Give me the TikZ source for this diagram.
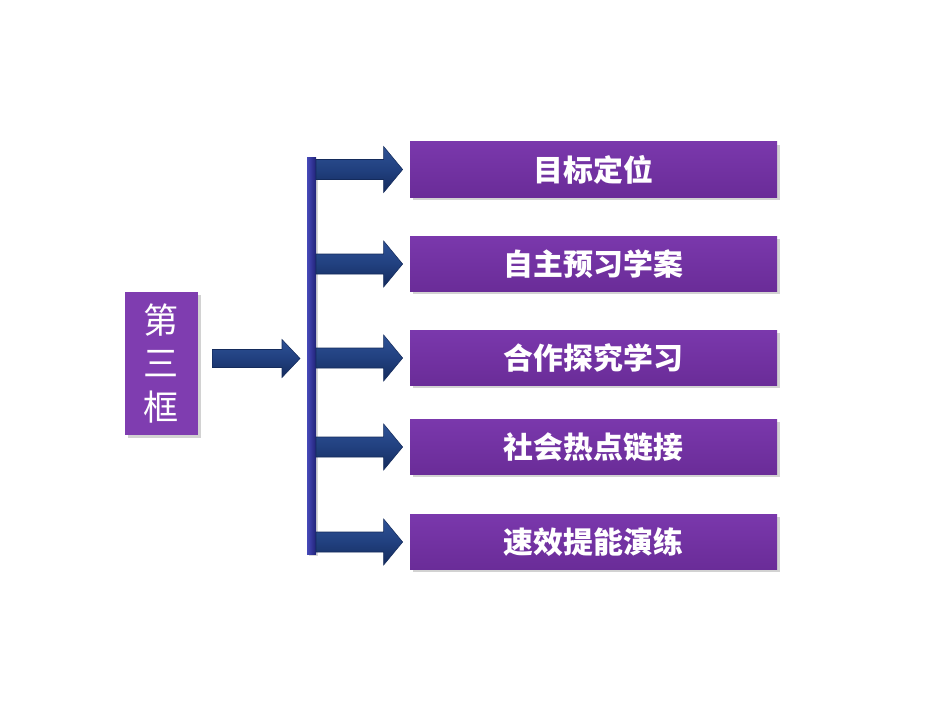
\documentclass[tikz,border=0pt]{standalone}
\usepackage{fontspec}
\newfontfamily\cjk{Noto Sans CJK SC}
\usetikzlibrary{calc,shadows}
\definecolor{boxpurple}{HTML}{7030A0}
\definecolor{boxtop}{HTML}{7A38AC}
\definecolor{boxbot}{HTML}{6A2C98}
\definecolor{leftpurple}{HTML}{7F3DB0}
\definecolor{arrtop}{HTML}{2E5296}
\definecolor{arrmid}{HTML}{21407F}
\definecolor{arrbot}{HTML}{142B5C}
\definecolor{barleft}{HTML}{4649B8}
\definecolor{barright}{HTML}{202278}
\tikzset{
  itembox/.style={draw=none, top color=boxtop, bottom color=boxbot,
    minimum width=367*0.02cm, minimum height=55*0.02cm, inner sep=0pt,
    text=white, font=\cjk\bfseries\fontsize{17}{20}\selectfont,
    drop shadow={shadow xshift=1.5pt, shadow yshift=-1.5pt, opacity=0.35}},
  titlebox/.style={draw=none, fill=leftpurple,
    minimum width=73*0.02cm, minimum height=143*0.02cm, inner sep=0pt,
    text=white, align=center, font=\cjk\fontsize{20}{25}\selectfont,
    drop shadow={shadow xshift=1.5pt, shadow yshift=-1.5pt, opacity=0.35}},
  arrowfill/.style={top color=arrtop, bottom color=arrbot, middle color=arrmid, draw=arrbot, line width=0.3pt}
}
% #1 start, #2 tip, #3 half shaft, #4 half head, #5 head length (pixel units)
\newcommand\myarrow[5]{%
  \shade[arrowfill]
    ($(#1)+(0,-#3)$) -- ($(#2)+(-#5,-#3)$) -- ($(#2)+(-#5,-#4)$) -- (#2)
    -- ($(#2)+(-#5,#4)$) -- ($(#2)+(-#5,#3)$) -- ($(#1)+(0,#3)$) -- cycle;
}
\begin{document}
\begin{tikzpicture}[x=0.02cm,y=-0.02cm]
\useasboundingbox (0,0) rectangle (950,713);
\fill[white] (0,0) rectangle (950,713);

% title box
\node[titlebox] (title) at (161.5,363.5) {第\\三\\框};

% vertical bar
\shade[left color=barleft, right color=barright, drop shadow={shadow xshift=1pt, shadow yshift=-1pt, opacity=0.3}]
  (307,157) rectangle (316,554);

% item boxes
\node[itembox] (b1) at (593.5,169.5) {目标定位};
\node[itembox] (b2) at (593.5,264) {自主预习学案};
\node[itembox] (b3) at (593.5,358) {合作探究学习};
\node[itembox] (b4) at (593.5,447) {社会热点链接};
\node[itembox] (b5) at (593.5,542) {速效提能演练};

% main arrow
\coordinate (mA) at ($(title.east)+(14,-5)$);
\coordinate (mT) at (300,358.5);
\myarrow{mA}{mT}{9}{19}{18}

% branch arrows
\foreach \b in {b1,b2,b3,b4,b5}{
  \coordinate (s\b) at ($(316,0)!(\b.west)!(316,713)$);
  \coordinate (t\b) at ($(\b.west)+(-7,0)$);
  \myarrow{s\b}{t\b}{10}{23}{19}
}
\end{tikzpicture}
\end{document}
